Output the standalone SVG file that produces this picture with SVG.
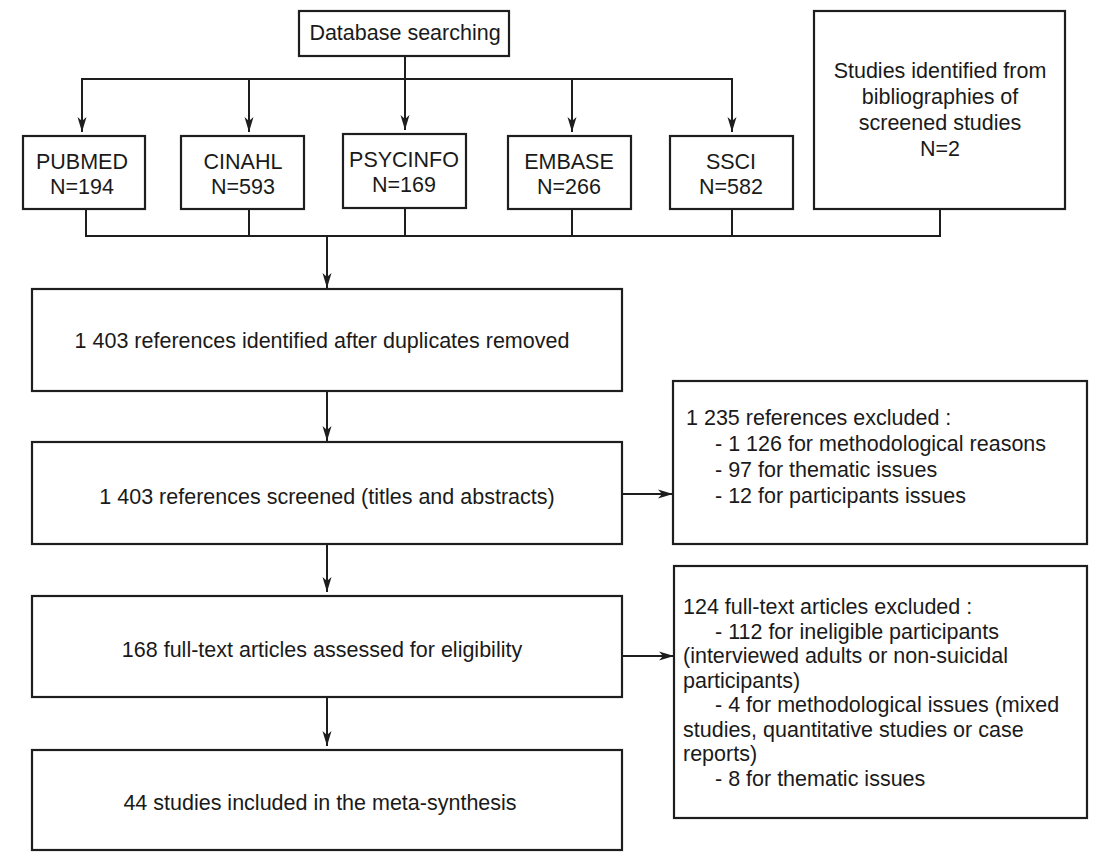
<svg xmlns="http://www.w3.org/2000/svg" width="1107" height="863" viewBox="0 0 1107 863">
<style>
.box{fill:#fff;stroke:#1e1e1e;stroke-width:2.2}
.ln{fill:none;stroke:#1e1e1e;stroke-width:2}
.t{font-family:"Liberation Sans",Arial,sans-serif;font-size:21.5px;fill:#1a1a1a}
.c{text-anchor:middle}
</style>
<defs>
<marker id="ah" viewBox="0 0 15 10" refX="15" refY="5" markerWidth="15" markerHeight="10" markerUnits="userSpaceOnUse" orient="auto">
<path d="M0,0.5 L15,5 L0,9.5 L4,5 z" fill="#1e1e1e"/>
</marker>
</defs>
<rect width="1107" height="863" fill="#fff"/>
<g id="connectors">
<line class="ln" x1="405" y1="56" x2="405" y2="79"/>
<line class="ln" x1="81" y1="79" x2="733" y2="79"/>
<line class="ln" x1="82" y1="79" x2="82" y2="132" marker-end="url(#ah)"/>
<line class="ln" x1="249" y1="79" x2="249" y2="132" marker-end="url(#ah)"/>
<line class="ln" x1="405" y1="79" x2="405" y2="130" marker-end="url(#ah)"/>
<line class="ln" x1="572" y1="79" x2="572" y2="132" marker-end="url(#ah)"/>
<line class="ln" x1="732" y1="79" x2="732" y2="132" marker-end="url(#ah)"/>
<line class="ln" x1="86" y1="209" x2="86" y2="236"/>
<line class="ln" x1="249" y1="209" x2="249" y2="236"/>
<line class="ln" x1="405" y1="208" x2="405" y2="236"/>
<line class="ln" x1="572" y1="209" x2="572" y2="236"/>
<line class="ln" x1="732" y1="209" x2="732" y2="236"/>
<line class="ln" x1="940" y1="209" x2="940" y2="236"/>
<line class="ln" x1="85" y1="236" x2="941" y2="236"/>
<line class="ln" x1="327" y1="236" x2="327" y2="288" marker-end="url(#ah)"/>
<line class="ln" x1="327" y1="391" x2="327" y2="441" marker-end="url(#ah)"/>
<line class="ln" x1="327" y1="544" x2="327" y2="592" marker-end="url(#ah)"/>
<line class="ln" x1="327" y1="697" x2="327" y2="746" marker-end="url(#ah)"/>
<line class="ln" x1="622" y1="494" x2="673" y2="494" marker-end="url(#ah)"/>
<line class="ln" x1="622" y1="656" x2="674" y2="656" marker-end="url(#ah)"/>
</g>
<g id="database">
<rect class="box" x="299" y="11" width="210" height="45"/>
<text class="t c" x="405" y="40">Database searching</text>
</g>
<g id="pubmed">
<rect class="box" x="23" y="136" width="122" height="73"/>
<text class="t c" x="82" y="169">PUBMED</text>
<text class="t c" x="82" y="194">N=194</text>
</g>
<g id="cinahl">
<rect class="box" x="181" y="136" width="123" height="73"/>
<text class="t c" x="243" y="169">CINAHL</text>
<text class="t c" x="243" y="194">N=593</text>
</g>
<g id="psycinfo">
<rect class="box" x="343" y="134" width="123" height="74"/>
<text class="t c" x="404" y="167">PSYCINFO</text>
<text class="t c" x="404" y="192">N=169</text>
</g>
<g id="embase">
<rect class="box" x="508" y="136" width="123" height="73"/>
<text class="t c" x="569" y="169">EMBASE</text>
<text class="t c" x="569" y="194">N=266</text>
</g>
<g id="ssci">
<rect class="box" x="670" y="136" width="123" height="73"/>
<text class="t c" x="731" y="169">SSCI</text>
<text class="t c" x="731" y="194">N=582</text>
</g>
<g id="bibliographies">
<rect class="box" x="814" y="11" width="251" height="198"/>
<text class="t c" x="940" y="77.5">Studies identified from</text>
<text class="t c" x="940" y="103.5">bibliographies of</text>
<text class="t c" x="940" y="129.5">screened studies</text>
<text class="t c" x="940" y="155.5">N=2</text>
</g>
<g id="identified">
<rect class="box" x="32" y="289" width="590" height="102"/>
<text class="t c" x="322" y="347.5">1 403 references identified after duplicates removed</text>
</g>
<g id="screened">
<rect class="box" x="32" y="442" width="590" height="102"/>
<text class="t c" x="327" y="503.5">1 403 references screened (titles and abstracts)</text>
</g>
<g id="fulltext">
<rect class="box" x="32" y="596" width="590" height="101"/>
<text class="t c" x="322" y="656.5">168 full-text articles assessed for eligibility</text>
</g>
<g id="included">
<rect class="box" x="32" y="750" width="590" height="100"/>
<text class="t c" x="320" y="809.5">44 studies included in the meta-synthesis</text>
</g>
<g id="excluded1">
<rect class="box" x="673" y="381" width="414" height="163"/>
<text class="t" x="686" y="425">1 235 references excluded :</text>
<text class="t" x="715" y="451">- 1 126 for methodological reasons</text>
<text class="t" x="715" y="477">- 97 for thematic issues</text>
<text class="t" x="715" y="503">- 12 for participants issues</text>
</g>
<g id="excluded2">
<rect class="box" x="674" y="566" width="413" height="252"/>
<text class="t" x="683" y="614">124 full-text articles excluded :</text>
<text class="t" x="715" y="638.5">- 112 for ineligible participants</text>
<text class="t" x="683" y="663">(interviewed adults or non-suicidal</text>
<text class="t" x="683" y="687.5">participants)</text>
<text class="t" x="715" y="712">- 4 for methodological issues (mixed</text>
<text class="t" x="683" y="736.5">studies, quantitative studies or case</text>
<text class="t" x="683" y="761">reports)</text>
<text class="t" x="715" y="785.5">- 8 for thematic issues</text>
</g>
</svg>
